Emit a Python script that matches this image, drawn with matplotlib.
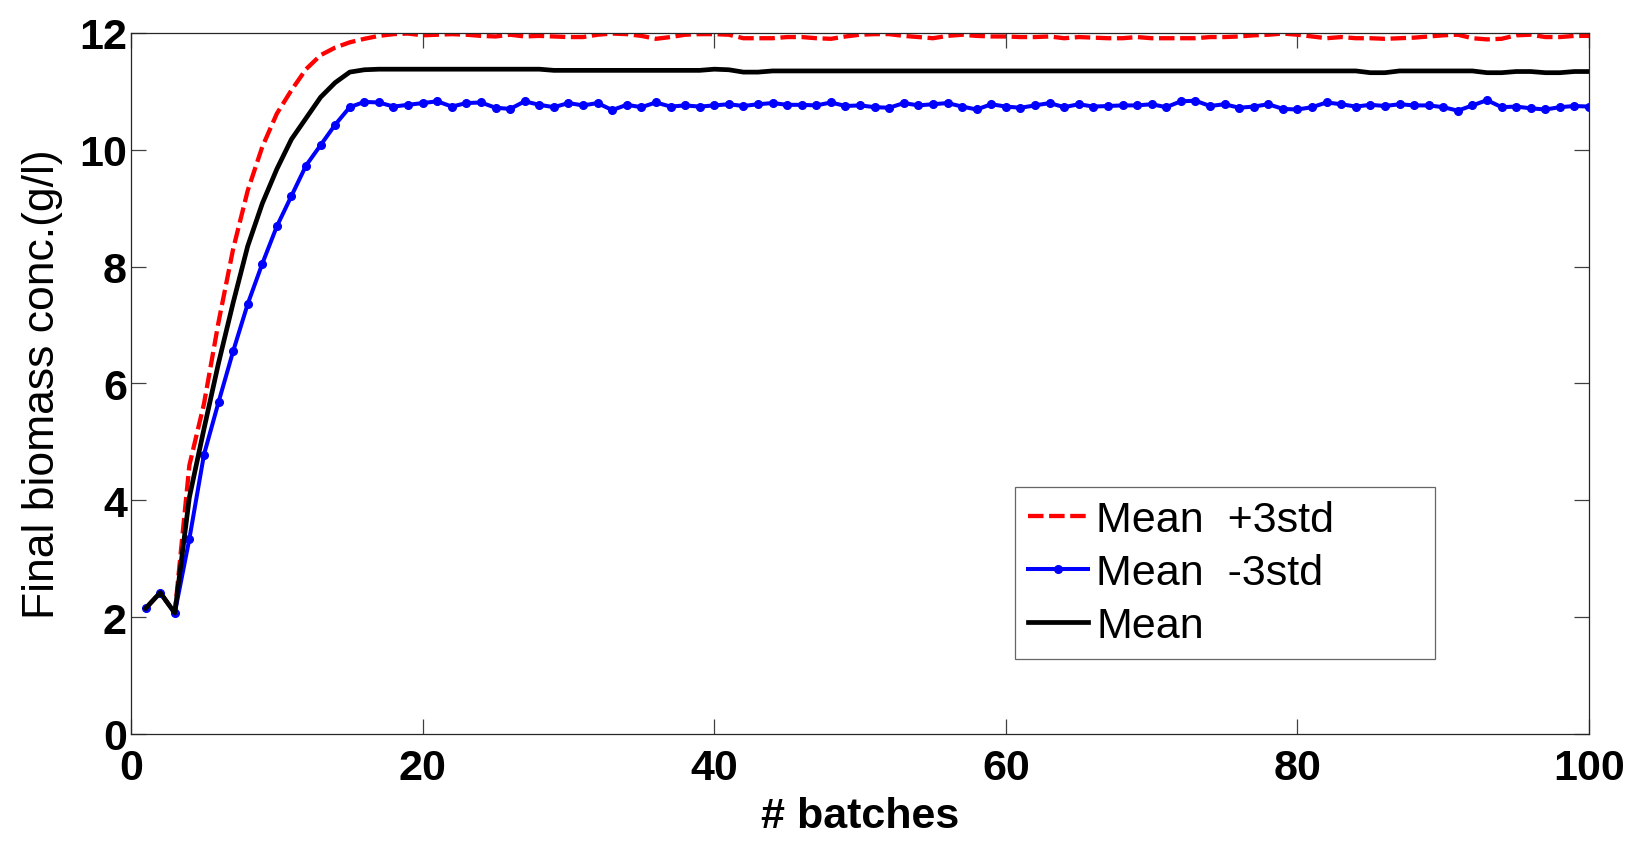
import numpy as np
import matplotlib; matplotlib.use("Agg"); import matplotlib.pyplot as plt

plt.rcParams["font.family"] = ["Liberation Sans", "DejaVu Sans"]

batches = np.arange(1, 101)

# final biomass per batch: mean and +/- 3 std envelopes
mean_x = [2.15, 2.42, 2.07, 4.05, 5.22, 6.35, 7.38, 8.35, 9.08, 9.67,
          10.18, 10.54, 10.90, 11.15, 11.33, 11.37, 11.38, 11.38, 11.38, 11.38,
          11.38, 11.38, 11.38, 11.38, 11.38, 11.38, 11.38, 11.38, 11.36, 11.36,
          11.36, 11.36, 11.36, 11.36, 11.36, 11.36, 11.36, 11.36, 11.36, 11.38,
          11.37, 11.33, 11.33, 11.35, 11.35, 11.35, 11.35, 11.35, 11.35, 11.35,
          11.35, 11.35, 11.35, 11.35, 11.35, 11.35, 11.35, 11.35, 11.35, 11.35,
          11.35, 11.35, 11.35, 11.35, 11.35, 11.35, 11.35, 11.35, 11.35, 11.35,
          11.35, 11.35, 11.35, 11.35, 11.35, 11.35, 11.35, 11.35, 11.35, 11.35,
          11.35, 11.35, 11.35, 11.35, 11.32, 11.32, 11.35, 11.35, 11.35, 11.35,
          11.35, 11.35, 11.32, 11.32, 11.34, 11.34, 11.32, 11.32, 11.34, 11.34]

upper_x = [2.15, 2.42, 2.07, 4.60, 5.65, 7.05, 8.30, 9.30, 10.05, 10.62,
           11.02, 11.38, 11.62, 11.75, 11.84, 11.90, 11.95, 11.98, 11.99, 11.96,
           11.97, 11.98, 11.97, 11.95, 11.94, 11.97, 11.94, 11.95, 11.94, 11.93,
           11.93, 11.97, 11.99, 11.98, 11.95, 11.90, 11.93, 11.97, 11.98, 11.98,
           11.97, 11.91, 11.91, 11.91, 11.93, 11.93, 11.91, 11.90, 11.94, 11.97,
           11.98, 11.98, 11.95, 11.93, 11.91, 11.95, 11.97, 11.95, 11.94, 11.94,
           11.93, 11.93, 11.94, 11.91, 11.93, 11.92, 11.91, 11.91, 11.93, 11.91,
           11.91, 11.91, 11.91, 11.93, 11.93, 11.94, 11.96, 11.97, 11.99, 11.97,
           11.94, 11.91, 11.93, 11.91, 11.91, 11.90, 11.91, 11.92, 11.94, 11.96,
           11.97, 11.91, 11.89, 11.90, 11.96, 11.97, 11.93, 11.93, 11.95, 11.95]

lower_x = [2.15, 2.42, 2.07, 3.34, 4.78, 5.68, 6.55, 7.36, 8.05, 8.69,
           9.21, 9.73, 10.08, 10.43, 10.73, 10.82, 10.81, 10.74, 10.77, 10.80,
           10.83, 10.74, 10.80, 10.81, 10.72, 10.70, 10.83, 10.77, 10.73, 10.80,
           10.76, 10.80, 10.68, 10.77, 10.73, 10.81, 10.74, 10.76, 10.74, 10.76,
           10.78, 10.75, 10.78, 10.80, 10.77, 10.77, 10.76, 10.81, 10.75, 10.76,
           10.73, 10.72, 10.80, 10.76, 10.78, 10.80, 10.74, 10.69, 10.78, 10.74,
           10.72, 10.76, 10.80, 10.73, 10.78, 10.74, 10.75, 10.76, 10.76, 10.78,
           10.73, 10.83, 10.84, 10.75, 10.78, 10.72, 10.74, 10.78, 10.70, 10.69,
           10.73, 10.81, 10.78, 10.74, 10.77, 10.75, 10.78, 10.76, 10.76, 10.73,
           10.67, 10.76, 10.85, 10.73, 10.74, 10.71, 10.69, 10.73, 10.75, 10.74]

fig = plt.figure(figsize=(16.32, 8.45), dpi=100)
ax = fig.add_axes([0.0803, 0.1302, 0.8934, 0.8296])

ax.plot(batches, upper_x, color="#FF0000", lw=3.1, ls=(0, (3.6, 1.3)),
        label="Mean  +3std")
ax.plot(batches, lower_x, color="#0000FF", lw=2.9, marker="o", ms=5.5,
        label="Mean  -3std")
ax.plot(batches, mean_x, color="black", lw=3.4, label="Mean")

ax.set_xlim(0, 100)
ax.set_ylim(0, 12)
ax.set_xticks(np.arange(0, 101, 20))
ax.set_yticks(np.arange(0, 13, 2))
ax.tick_params(direction="in", length=11, width=0.9, color="#404040",
               top=True, right=True, labelsize=31)
ax.tick_params(axis="x", pad=10)
ax.tick_params(axis="y", pad=3)
for lab in ax.get_xticklabels() + ax.get_yticklabels():
    lab.set_fontweight("bold")
for sp in ax.spines.values():
    sp.set_linewidth(0.9); sp.set_color("#262626")

ax.set_xlabel("# batches", fontsize=31, fontweight="bold")
ax.set_ylabel("Final biomass conc.(g/l)", fontsize=32)
ax.xaxis.set_label_coords(0.5, -0.088)
ax.yaxis.set_label_coords(-0.047, 0.5)

leg = ax.legend(loc="upper left", bbox_to_anchor=(0.606, 0.252, 0.288, 0.1),
                mode="expand", fontsize=31, frameon=True, fancybox=False,
                borderaxespad=0, borderpad=0.3, labelspacing=0.3,
                handlelength=1.4, handletextpad=0.2)
leg.get_frame().set_edgecolor("#404040")
leg.get_frame().set_linewidth(0.9)

fig.savefig("out.png", dpi=100)
